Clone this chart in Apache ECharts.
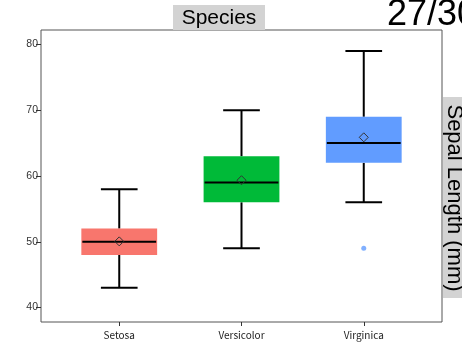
<!DOCTYPE html>
<html>
<head>
<meta charset="utf-8">
<script src="https://cdn.jsdelivr.net/npm/echarts@6/dist/echarts.min.js"></script>
<style>html,body{margin:0;padding:0;background:#fff;}#c{width:462px;height:342px;}</style>
</head>
<body>
<div id="c"></div>
<script>
const categories = ['Setosa', 'Versicolor', 'Virginica'];
const minValues = [43, 49, 56];
const q1Values = [48, 56, 62];
const medianValues = [50, 59, 65];
const q3Values = [52, 63, 69];
const maxValues = [58, 70, 79];
const meanValues = [50.06, 59.36, 65.88];
const outlierCategories = ['Virginica'];
const outlierValues = [49];
const yTicks = [40, 50, 60, 70, 80];
const boxColors = ['#F8766D', '#00BA38', '#619CFF'];

const boxData = categories.map((c, i) => [i + 1, minValues[i], q1Values[i], medianValues[i], q3Values[i], maxValues[i], meanValues[i]]);
const outlierData = outlierCategories.map((c, i) => [categories.indexOf(c) + 1, outlierValues[i]]);

const chart = echarts.init(document.getElementById('c'), null, {renderer: 'canvas'});

function renderBox(params, api) {
  const x = api.value(0);
  const idx = params.dataIndex;
  const pMin = api.coord([x, api.value(1)]);
  const pQ1 = api.coord([x, api.value(2)]);
  const pMed = api.coord([x, api.value(3)]);
  const pQ3 = api.coord([x, api.value(4)]);
  const pMax = api.coord([x, api.value(5)]);
  const pMean = api.coord([x, api.value(6)]);
  const halfBox = api.size([0.62, 0])[0] / 2;
  const halfCap = api.size([0.30, 0])[0] / 2;
  const cx = pMed[0];
  const lineStyle = {stroke: '#000', lineWidth: 2};
  const d = 4.5;
  return {
    type: 'group',
    children: [
      {type: 'line', shape: {x1: cx, y1: pQ3[1], x2: cx, y2: pMax[1]}, style: lineStyle},
      {type: 'line', shape: {x1: cx, y1: pQ1[1], x2: cx, y2: pMin[1]}, style: lineStyle},
      {type: 'line', shape: {x1: cx - halfCap, y1: pMax[1], x2: cx + halfCap, y2: pMax[1]}, style: lineStyle},
      {type: 'line', shape: {x1: cx - halfCap, y1: pMin[1], x2: cx + halfCap, y2: pMin[1]}, style: lineStyle},
      {type: 'rect', shape: {x: cx - halfBox, y: pQ3[1], width: halfBox * 2, height: pQ1[1] - pQ3[1]}, style: {fill: boxColors[idx], stroke: null}},
      {type: 'line', shape: {x1: cx - halfBox + 1, y1: pMed[1], x2: cx + halfBox - 1, y2: pMed[1]}, style: lineStyle},
      {type: 'polygon', shape: {points: [[cx, pMean[1] - d], [cx + d, pMean[1]], [cx, pMean[1] + d], [cx - d, pMean[1]]]}, style: {fill: null, stroke: '#333', lineWidth: 1}}
    ]
  };
}

const option = {
  animation: false,
  backgroundColor: '#fff',
  grid: {left: 41, top: 30, width: 401, height: 292, show: true, borderColor: '#555', borderWidth: 1, backgroundColor: '#fff'},
  xAxis: {
    type: 'value', min: 0.36, max: 3.64,
    splitLine: {show: false},
    axisLine: {show: false},
    axisTick: {show: true, length: 4, customValues: [1, 2, 3], lineStyle: {color: '#333'}},
    axisLabel: {customValues: [1, 2, 3], formatter: v => categories[Math.round(v) - 1] || '', fontSize: 10, color: '#222', margin: 8, fontFamily: 'Noto Sans CJK JP'}
  },
  yAxis: {
    type: 'value', min: 37.8, max: 82.2,
    splitLine: {show: false},
    axisLine: {show: false},
    axisTick: {show: true, length: 5, customValues: yTicks, lineStyle: {color: '#333'}},
    axisLabel: {customValues: yTicks, fontSize: 10.5, color: '#333', margin: 3, fontFamily: 'Liberation Sans'}
  },
  graphic: [
    {type: 'rect', left: 173, top: 5, shape: {width: 92, height: 25}, style: {fill: '#d3d3d3'}, z: 10},
    {type: 'text', x: 219, y: 18, style: {text: 'Species', font: '21px "Liberation Sans"', fill: '#000', align: 'center', verticalAlign: 'middle'}, z: 11},
    {type: 'text', x: 387, y: 33, style: {text: '27/30', font: '36px "Liberation Sans"', fill: '#000', align: 'left', verticalAlign: 'bottom'}, z: 11},
    {type: 'rect', left: 443, top: 97, shape: {width: 30, height: 201}, style: {fill: '#d3d3d3'}, z: 10},
    {type: 'text', x: 454, y: 198, rotation: -Math.PI / 2, style: {text: 'Sepal Length (mm)', font: '22px "Liberation Sans"', fill: '#000', align: 'center', verticalAlign: 'middle'}, z: 11}
  ],
  series: [
    {type: 'custom', renderItem: renderBox, data: boxData, encode: {x: 0, y: [1, 5]}, clip: false},
    {type: 'scatter', data: outlierData, symbolSize: 5, itemStyle: {color: '#619CFF'}}
  ]
};
chart.setOption(option);
</script>
</body>
</html>
